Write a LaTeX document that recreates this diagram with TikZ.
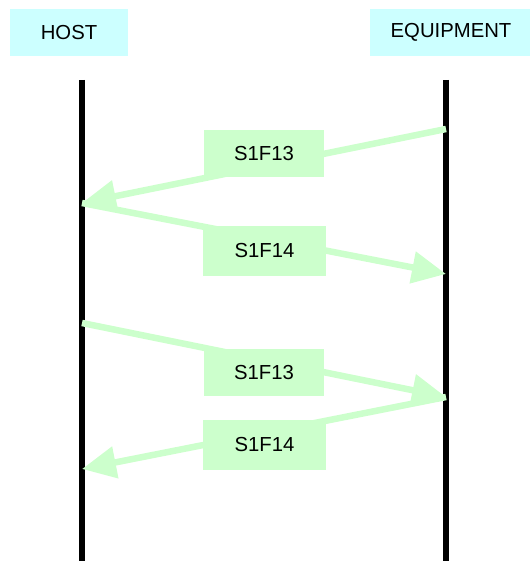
\documentclass[tikz,border=0pt]{standalone}
\usepackage{fontspec}
\setmainfont{Liberation Sans}
\usetikzlibrary{arrows.meta}
\definecolor{hdrcyan}{HTML}{CCFFFF}
\definecolor{msggreen}{HTML}{CCFFCC}
\tikzset{
  header/.style={fill=hdrcyan, draw=none, inner sep=0pt, font=\fontsize{20.3}{23}\selectfont},
  msglabel/.style={fill=msggreen, draw=none, inner sep=0pt, font=\fontsize{20.3}{23}\selectfont},
  lifeline/.style={line width=6.5pt, black},
  message/.style={line width=6.5pt, msggreen, -{Triangle[length=34pt,width=31pt]}}
}
\begin{document}
\begin{tikzpicture}[x=1pt,y=-1pt]
\useasboundingbox (0,0) rectangle (529,561);
% headers
\node[header, minimum width=118pt, minimum height=47pt] (host) at (69,32.5) {HOST};
\node[header, minimum width=162pt, minimum height=47pt] (equip) at (451,32.5) {EQUIPMENT};
% lifelines
\coordinate (htop) at (82,80);
\coordinate (hbot) at (82,561);
\coordinate (etop) at (446,80);
\coordinate (ebot) at (446,561);
\draw[lifeline] (htop) -- (hbot);
\draw[lifeline] (etop) -- (ebot);
% message endpoints
\coordinate (e1) at (446,129);
\coordinate (h1) at (82,203);
\coordinate (e2) at (446,274);
\coordinate (h3) at (82,323);
\coordinate (e3) at (446,397);
\coordinate (h4) at (82,469);
% messages
\draw[message] (e1) -- (h1);
\draw[message] (h1) -- (e2);
\draw[message] (h3) -- (e3);
\draw[message] (e3) -- (h4);
% labels
\node[msglabel, minimum width=120pt, minimum height=47pt] (m1) at (264,153.5) {S1F13};
\node[msglabel, minimum width=123pt, minimum height=50pt] (m2) at (264.5,251) {S1F14};
\node[msglabel, minimum width=120pt, minimum height=47pt] (m3) at (264,372.5) {S1F13};
\node[msglabel, minimum width=123pt, minimum height=50pt] (m4) at (264.5,445) {S1F14};
\end{tikzpicture}
\end{document}
